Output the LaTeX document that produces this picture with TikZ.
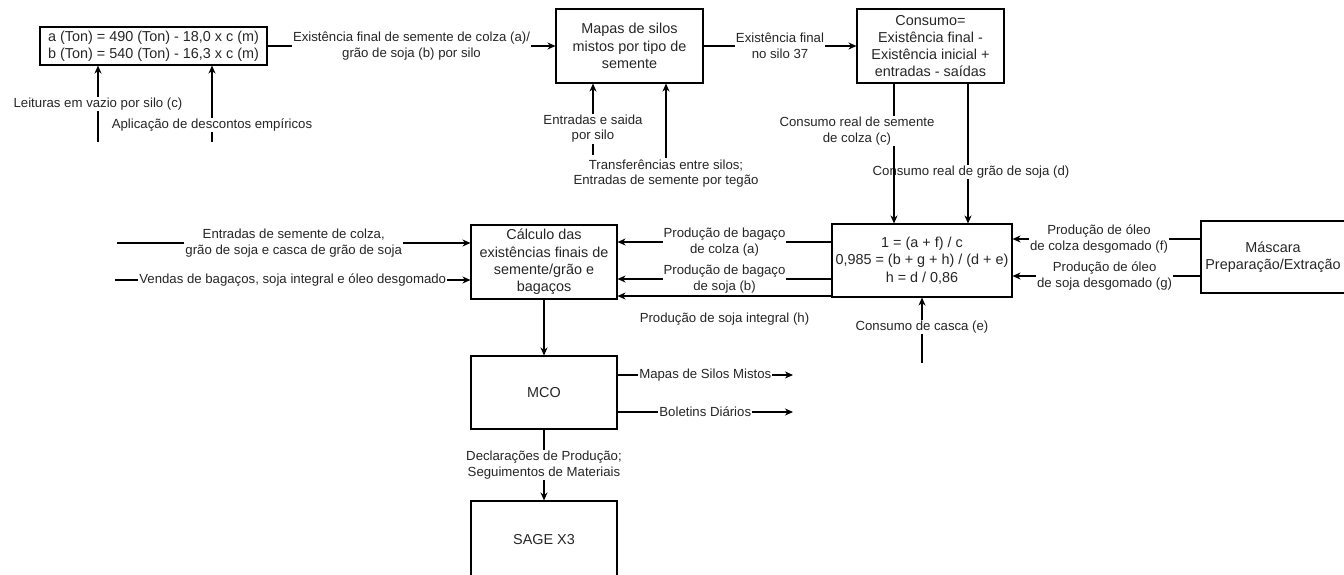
\documentclass[tikz,border=0pt]{standalone}
\usepackage{fontspec}
\setmainfont{Liberation Sans}
\usetikzlibrary{arrows.meta}
\begin{document}
\begin{tikzpicture}[x=1pt,y=-1pt,
  box/.style={draw, line width=1.1pt, align=center, inner sep=0pt,
              font=\fontsize{14.4}{17.2}\selectfont, text=black!85},
  lbl/.style={fill=white, inner sep=1pt, align=center,
              font=\fontsize{13.2}{15.8}\selectfont, text=black!85},
  flow/.style={line width=1.1pt, -{Stealth[length=8pt,width=7pt,inset=2.5pt]}}]
\useasboundingbox (0,0) rectangle (1344,574);

% ---- process boxes ----
\node[box, minimum width=227pt, minimum height=38pt] (A) at (153.5,46)
  {a (Ton) = 490 (Ton) - 18,0 x c (m)\\b (Ton) = 540 (Ton) - 16,3 x c (m)};
\node[box, minimum width=147pt, minimum height=74pt] (B) at (629.5,46)
  {Mapas de silos\\mistos por tipo de\\semente};
\node[box, minimum width=147pt, minimum height=74pt] (C) at (930.5,46)
  {Consumo=\\Existência final -\\Existência inicial +\\entradas - saídas};
\node[box, minimum width=146pt, minimum height=74pt] (D) at (544,262)
  {Cálculo das\\existências finais de\\semente/grão e\\bagaços};
\node[box, minimum width=180pt, minimum height=73pt] (E) at (922,260.5)
  {1 = (a + f) / c\\0,985 = (b + g + h) / (d + e)\\h = d / 0,86};
\node[box, minimum width=144pt, minimum height=72pt] (F) at (1273,257)
  {Máscara\\Preparação/Extração};
\node[box, minimum width=146pt, minimum height=73pt] (MCO) at (544,392.5) {MCO};
\node[box, minimum width=146pt, minimum height=80pt] (SAGE) at (544,541)
  {\raisebox{3pt}{SAGE X3}};

% ---- free ends and row levels ----
\coordinate (l1) at (98,142);
\coordinate (l2) at (212,142);
\coordinate (e1) at (593,155);
\coordinate (x1) at (894,0);
\coordinate (x2) at (968,0);
\coordinate (r1) at (0,242);
\coordinate (r2) at (0,279);
\coordinate (r3) at (0,296);
\coordinate (f1) at (0,239);
\coordinate (f2) at (0,276);
\coordinate (s1) at (117,243);
\coordinate (s2) at (115,280);
\coordinate (m1) at (793,375);
\coordinate (m2) at (793,412);
\coordinate (k)  at (922,363);

% ---- silo readings ----
\draw[flow] (l1) -- node[lbl]{Leituras em vazio por silo (c)} (l1 |- A.south);
\draw[flow] (l2) -- node[lbl,pos=0.22]{Aplicação de descontos empíricos} (l2 |- A.south);
\draw[flow] (A.east) -- node[lbl]{Existência final de semente de colza (a)/\\grão de soja (b) por silo} (B.west);

% ---- mixed silo maps ----
\draw[flow] (e1) -- node[lbl,pos=0.37]{Entradas e saida\\por silo} (e1 |- B.south);
\node[lbl] (t2) at (666,173.5) {Transferências entre silos;\\Entradas de semente por tegão};
\draw[flow] (t2.north) -- (t2.north |- B.south);
\draw[flow] (B.east) -- node[lbl]{Existência final\\no silo 37} (C.west);

% ---- real consumption ----
\draw[flow] (C.south -| x2) -- (E.north -| x2);
\node[lbl] (d1) at (971,172) {Consumo real de grão de soja (d)};
\draw[flow] (C.south -| x1) -- (E.north -| x1);
\node[lbl] (c1) at (857,131) {Consumo real de semente\\de colza (c)};
\draw[flow] (k) -- node[lbl,pos=0.545]{Consumo de casca (e)} (E.south);

% ---- oil production ----
\draw[flow] (F.west |- f1) -- node[lbl,pos=0.54]{Produção de óleo\\de colza desgomado (f)} (E.east |- f1);
\draw[flow] (F.west |- f2) -- node[lbl,pos=0.51]{Produção de óleo\\de soja desgomado (g)} (E.east |- f2);

% ---- meal production ----
\draw[flow] (E.west |- r1) -- node[lbl]{Produção de bagaço\\de colza (a)} (D.east |- r1);
\draw[flow] (E.west |- r2) -- node[lbl]{Produção de bagaço\\de soja (b)} (D.east |- r2);
\draw[flow] (E.west |- r3) -- node[lbl,midway,yshift=-23pt]{Produção de soja integral (h)} (D.east |- r3);

% ---- inputs and sales ----
\draw[flow] (s1) -- node[lbl]{Entradas de semente de colza,\\grão de soja e casca de grão de soja} (D.west |- s1);
\draw[flow] (s2) -- node[lbl]{Vendas de bagaços, soja integral e óleo desgomado} (D.west |- s2);

% ---- reporting ----
\draw[flow] (D.south) -- (MCO.north);
\draw[flow] (MCO.east |- m1) -- node[lbl]{Mapas de Silos Mistos} (m1);
\draw[flow] (MCO.east |- m2) -- node[lbl]{Boletins Diários} (m2);
\draw[flow] (MCO.south) -- node[lbl]{Declarações de Produção;\\Seguimentos de Materiais} (SAGE.north);
\end{tikzpicture}
\end{document}
